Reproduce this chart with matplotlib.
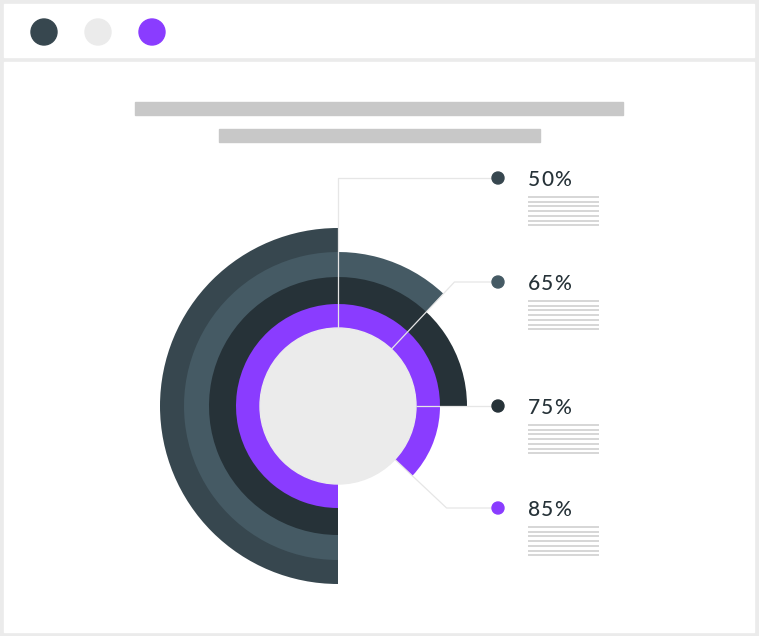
import numpy as np
import matplotlib.pyplot as plt
from matplotlib.patches import Wedge, Circle, Rectangle

# chart data
labels = ['50%', '65%', '75%', '85%']
arc_share = [0.50, 0.62, 0.75, 0.87]   # share of the full turn each ring covers, as drawn
ring_colors = ['#37474f', '#455a64', '#263238', '#8a3cff']

W, H = 759, 636
cx, cy = 338, 406          # centre of the rings (image pixels)
r_outer = 178
ring_w = [24, 25, 27, 24]
r_core = 78
label_y = [178, 282, 406, 508]
dot_x, text_x = 498, 528


def Y(y):
    # image y (down) -> axes y (up)
    return H - y


fig = plt.figure(figsize=(W / 100, H / 100), dpi=100)
fig.patch.set_facecolor('#ebebeb')
ax = fig.add_axes([0, 0, 1, 1])
ax.set_xlim(0, W)
ax.set_ylim(0, H)
ax.set_aspect('equal')
ax.axis('off')
renderer = fig.canvas.get_renderer()

# window frame
ax.add_patch(Rectangle((4, Y(57)), 750, 53, color='white', zorder=0))
ax.add_patch(Rectangle((4, Y(632)), 750, 570, color='white', zorder=0))
for x, c in zip([44, 98, 152], ['#37474f', '#ebebeb', '#8a3cff']):
    ax.add_patch(Circle((x, Y(32)), 13, color=c, zorder=1))

# title placeholders
ax.add_patch(Rectangle((135, Y(115)), 488, 13, color='#c8c8c8', zorder=1))
ax.add_patch(Rectangle((219, Y(142)), 321, 13, color='#c8c8c8', zorder=1))

# rings, starting at 6 o'clock and running clockwise
# each ring is made 2px wider so it tucks under the next one (no seams)
r = r_outer
for share, col, w in zip(arc_share, ring_colors, ring_w):
    ax.add_patch(Wedge((cx, Y(cy)), r, 270 - 360 * share, 270, width=w + 2,
                       facecolor=col, edgecolor='none', zorder=2))
    r -= w
ax.add_patch(Circle((cx, Y(cy)), r_core, color='#ebebeb', zorder=3))


def spaced_text(x, y, s, spacing=1.0, **kw):
    # draw a label one letter at a time to get the wide tracking
    for ch in s:
        t = ax.text(x, y, ch, **kw)
        bb = t.get_window_extent(renderer=renderer)
        x += bb.width + spacing


# leader lines, dots and labels
for share, col, ly, lab in zip(arc_share, ring_colors, label_y, labels):
    ang = np.deg2rad(270 - 360 * share)
    x0 = cx + r_core * np.cos(ang)
    y0 = Y(cy) + r_core * np.sin(ang)
    dy = Y(ly) - Y(cy)
    if abs(np.sin(ang)) > 1e-6:
        re = dy / np.sin(ang)
        xe = cx + re * np.cos(ang)
    else:
        xe = x0
    ax.plot([x0, xe, dot_x], [y0, Y(ly), Y(ly)], color='#e6e6e6', lw=0.9,
            zorder=4, solid_capstyle='butt')
    ax.add_patch(Circle((dot_x, Y(ly)), 6, color=col, zorder=5))
    spaced_text(text_x, Y(ly) - 2, lab, spacing=0.8, fontsize=15,
                family='Lato', weight='medium', color='#263238',
                va='center', ha='left', zorder=5)
    for k in range(7):
        yy = Y(ly + 19 + 4.7 * k)
        ax.plot([text_x, 599], [yy, yy], color='#cccccc', lw=1.1, zorder=4,
                solid_capstyle='butt')

fig.savefig('out.png', dpi=100, facecolor=fig.get_facecolor())
